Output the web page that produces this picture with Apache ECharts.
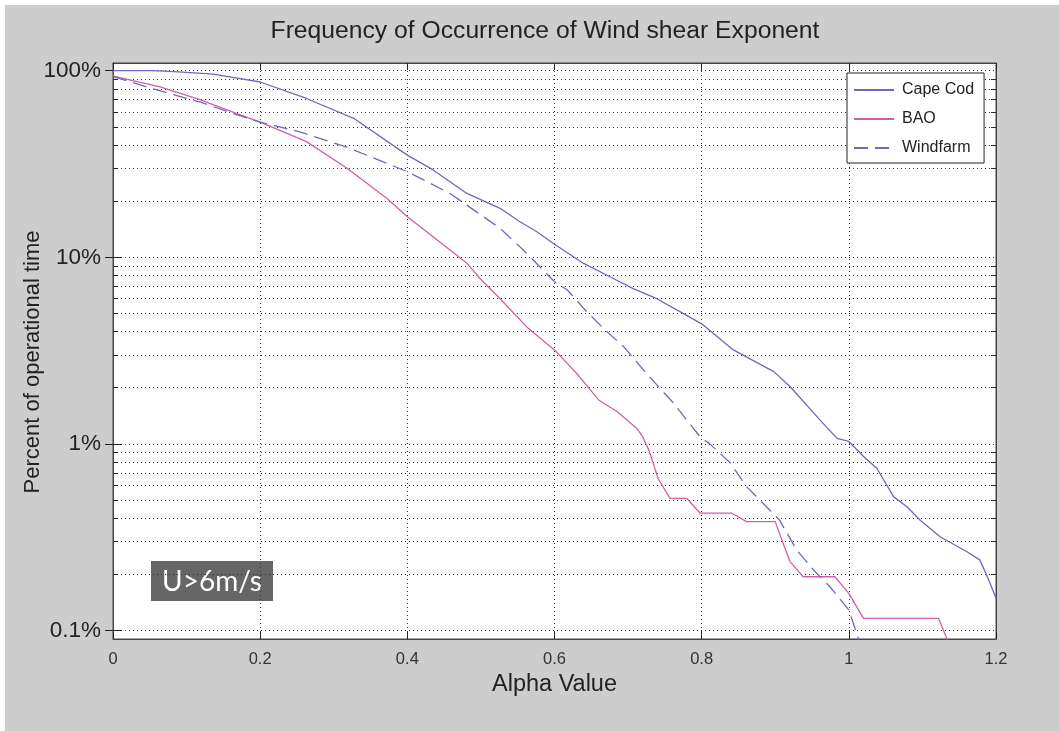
<!DOCTYPE html>
<html>
<head>
<meta charset="utf-8">
<script src="https://cdn.jsdelivr.net/npm/echarts@6/dist/echarts.min.js"></script>
<style>
html,body{margin:0;padding:0;background:#fff;}
#bg{position:absolute;left:5px;top:5px;width:1054px;height:726px;background:#cdcdcd;}
#main{position:absolute;left:0;top:0;width:1059px;height:731px;}
</style>
</head>
<body>
<div id="bg"></div>
<div id="main"></div>
<script>
// ---- data ----
const seriesNames = ['Cape Cod', 'BAO', 'Windfarm'];

const capeAlpha = [0, 0.05, 0.07, 0.1, 0.136, 0.163, 0.2, 0.263, 0.327, 0.4, 0.435, 0.481, 0.526, 0.553, 0.576, 0.598, 0.639, 0.68, 0.707, 0.739, 0.771, 0.8, 0.843, 0.898, 0.92, 0.961, 0.984, 1.0, 1.02, 1.038, 1.061, 1.079, 1.097, 1.124, 1.16, 1.178, 1.19, 1.2];
const capePct   = [100, 100, 99.5, 98, 96, 92, 87, 71, 55.6, 35.3, 29.4, 22, 18.3, 15.5, 13.7, 11.9, 9.3, 7.7, 6.8, 6.0, 5.1, 4.4, 3.19, 2.44, 2.03, 1.34, 1.07, 1.03, 0.855, 0.74, 0.52, 0.46, 0.39, 0.318, 0.265, 0.239, 0.187, 0.149];

const baoAlpha = [0, 0.027, 0.064, 0.118, 0.163, 0.2, 0.263, 0.318, 0.372, 0.4, 0.435, 0.481, 0.5, 0.526, 0.562, 0.6, 0.63, 0.66, 0.685, 0.712, 0.72, 0.728, 0.734, 0.741, 0.757, 0.78, 0.798, 0.841, 0.861, 0.9, 0.909, 0.92, 0.938, 0.981, 1.0, 1.02, 1.122, 1.136];
const baoPct   = [93.7, 88.5, 82, 70, 60, 53, 41.7, 30, 20.7, 16.5, 12.9, 9.3, 7.6, 6.0, 4.25, 3.19, 2.39, 1.72, 1.49, 1.21, 1.09, 0.93, 0.79, 0.65, 0.51, 0.51, 0.425, 0.425, 0.383, 0.383, 0.305, 0.234, 0.194, 0.194, 0.158, 0.116, 0.116, 0.085];

const windAlpha = [0, 0.05, 0.1, 0.118, 0.163, 0.2, 0.254, 0.318, 0.4, 0.458, 0.526, 0.558, 0.6, 0.617, 0.644, 0.671, 0.694, 0.721, 0.743, 0.762, 0.78, 0.798, 0.811, 0.839, 0.861, 0.888, 0.906, 0.929, 0.952, 0.974, 1.0, 1.014];
const windPct   = [93, 81, 71, 68, 59, 53, 47, 38.9, 28.8, 22, 14.3, 10.9, 7.4, 6.7, 5.1, 4.0, 3.32, 2.49, 1.99, 1.65, 1.34, 1.09, 1.0, 0.79, 0.59, 0.46, 0.39, 0.27, 0.211, 0.172, 0.129, 0.088];

const yMajorTicks = [0.1, 1, 10, 100];
const yMinorTicks = [0.2, 0.3, 0.4, 0.5, 0.6, 0.7, 0.8, 0.9, 2, 3, 4, 5, 6, 7, 8, 9, 20, 30, 40, 50, 60, 70, 80, 90];

const FONT = '"Liberation Sans", Arial, Helvetica, sans-serif';
const capeColor = '#6c6abb';
const baoColor = '#d260a6';
const gridDot = [1, 3];

function zip(a, b) { return a.map((v, i) => [v, b[i]]); }

const chart = echarts.init(document.getElementById('main'), null, {renderer: 'canvas'});

const xCommon = {
  type: 'value', min: 0, max: 1.2, interval: 0.2,
  axisLine: {show: true, lineStyle: {color: '#444', width: 1}},
};
const yCommon = {
  type: 'log', logBase: 10, min: 0.09, max: 110,
  axisLine: {show: true, lineStyle: {color: '#444', width: 1}},
};

const option = {
  animation: false,
  backgroundColor: 'transparent',
  graphic: [
    {type: 'text', x: 545, y: 31, z: 10,
     style: {text: 'Frequency of Occurrence of Wind shear Exponent', font: '24.7px ' + FONT, fill: '#222', align: 'center', verticalAlign: 'middle'}},
    {type: 'text', x: 33, y: 362, rotation: Math.PI / 2, z: 10,
     style: {text: 'Percent of operational time', font: '22px ' + FONT, fill: '#222', align: 'center', verticalAlign: 'middle'}},
    {type: 'group', x: 151, y: 561, z: 20, children: [
      {type: 'rect', shape: {x: 0, y: 0, width: 122, height: 40}, style: {fill: '#666'}},
      {type: 'text', x: 61, y: 21, style: {text: 'U>6m/s', font: '28px Lato, "Open Sans", sans-serif', fill: '#fff', align: 'center', verticalAlign: 'middle'}}
    ]}
  ],
  grid: {left: 113, right: 63, top: 63, bottom: 92, show: true, backgroundColor: '#fff', borderColor: '#444', borderWidth: 1, outerBoundsMode: 'none'},
  legend: {
    data: seriesNames, orient: 'vertical', left: 847, top: 73, z: 10,
    itemWidth: 40, itemHeight: 14, itemGap: 13,
    padding: [9, 10, 7, 6],
    backgroundColor: '#fff', borderColor: '#222', borderWidth: 1, borderRadius: 0,
    itemStyle: {opacity: 0},
    textStyle: {fontSize: 16, color: '#222', fontFamily: FONT, padding: [0, 0, 0, 3]},
    selectedMode: false
  },
  xAxis: [
    Object.assign({}, xCommon, {
      position: 'bottom',
      name: 'Alpha Value', nameLocation: 'middle', nameGap: 34,
      nameTextStyle: {fontSize: 23.5, color: '#222', fontFamily: FONT},
      axisTick: {show: true, inside: true, length: 7, lineStyle: {color: '#222'}},
      axisLabel: {show: true, fontSize: 16.5, color: '#333', fontFamily: FONT, margin: 12,
        formatter: v => (Math.round(v * 10) / 10).toString()},
      splitLine: {show: true, lineStyle: {color: '#333', type: gridDot, width: 1}}
    }),
    Object.assign({}, xCommon, {
      position: 'top',
      axisTick: {show: true, inside: true, length: 7, lineStyle: {color: '#222'}},
      axisLabel: {show: false},
      splitLine: {show: false}
    })
  ],
  yAxis: [
    Object.assign({}, yCommon, {
      position: 'left',
      axisTick: {show: true, inside: true, length: 8, customValues: yMajorTicks, lineStyle: {color: '#222'}},
      axisLabel: {show: true, fontSize: 22.5, color: '#222', fontFamily: FONT, margin: 12, customValues: yMajorTicks,
        formatter: v => (v < 1 ? v.toFixed(1) : Math.round(v)) + '%'},
      splitLine: {show: true, lineStyle: {color: '#333', type: gridDot, width: 1}}
    }),
    Object.assign({}, yCommon, {
      position: 'right',
      axisTick: {show: true, inside: true, length: 8, customValues: yMajorTicks, lineStyle: {color: '#222'}},
      axisLabel: {show: false},
      splitLine: {show: false}
    }),
    Object.assign({}, yCommon, {
      position: 'left',
      axisTick: {show: true, inside: true, length: 5, customValues: yMinorTicks, lineStyle: {color: '#222'}},
      axisLabel: {show: false},
      splitLine: {show: false}
    }),
    Object.assign({}, yCommon, {
      position: 'right',
      axisTick: {show: true, inside: true, length: 5, customValues: yMinorTicks, lineStyle: {color: '#222'}},
      axisLabel: {show: false},
      splitLine: {show: false}
    })
  ],
  series: [
    {
      name: 'minor grid', type: 'line', data: [], z: 1, silent: true,
      markLine: {
        silent: true, symbol: 'none', animation: false, z: 1,
        label: {show: false},
        lineStyle: {color: '#333', type: gridDot, width: 1},
        data: yMinorTicks.map(v => ({yAxis: v}))
      }
    },
    {
      name: 'Cape Cod', type: 'line', data: zip(capeAlpha, capePct), symbol: 'none', z: 3,
      color: capeColor, lineStyle: {color: capeColor, width: 1.3}
    },
    {
      name: 'BAO', type: 'line', data: zip(baoAlpha, baoPct), symbol: 'none', z: 3,
      color: baoColor, lineStyle: {color: baoColor, width: 1.3}
    },
    {
      name: 'Windfarm', type: 'line', data: zip(windAlpha, windPct), symbol: 'none', z: 3,
      color: capeColor, lineStyle: {color: capeColor, width: 1.3, type: [14, 7]}
    }
  ]
};
chart.setOption(option);
</script>
</body>
</html>
